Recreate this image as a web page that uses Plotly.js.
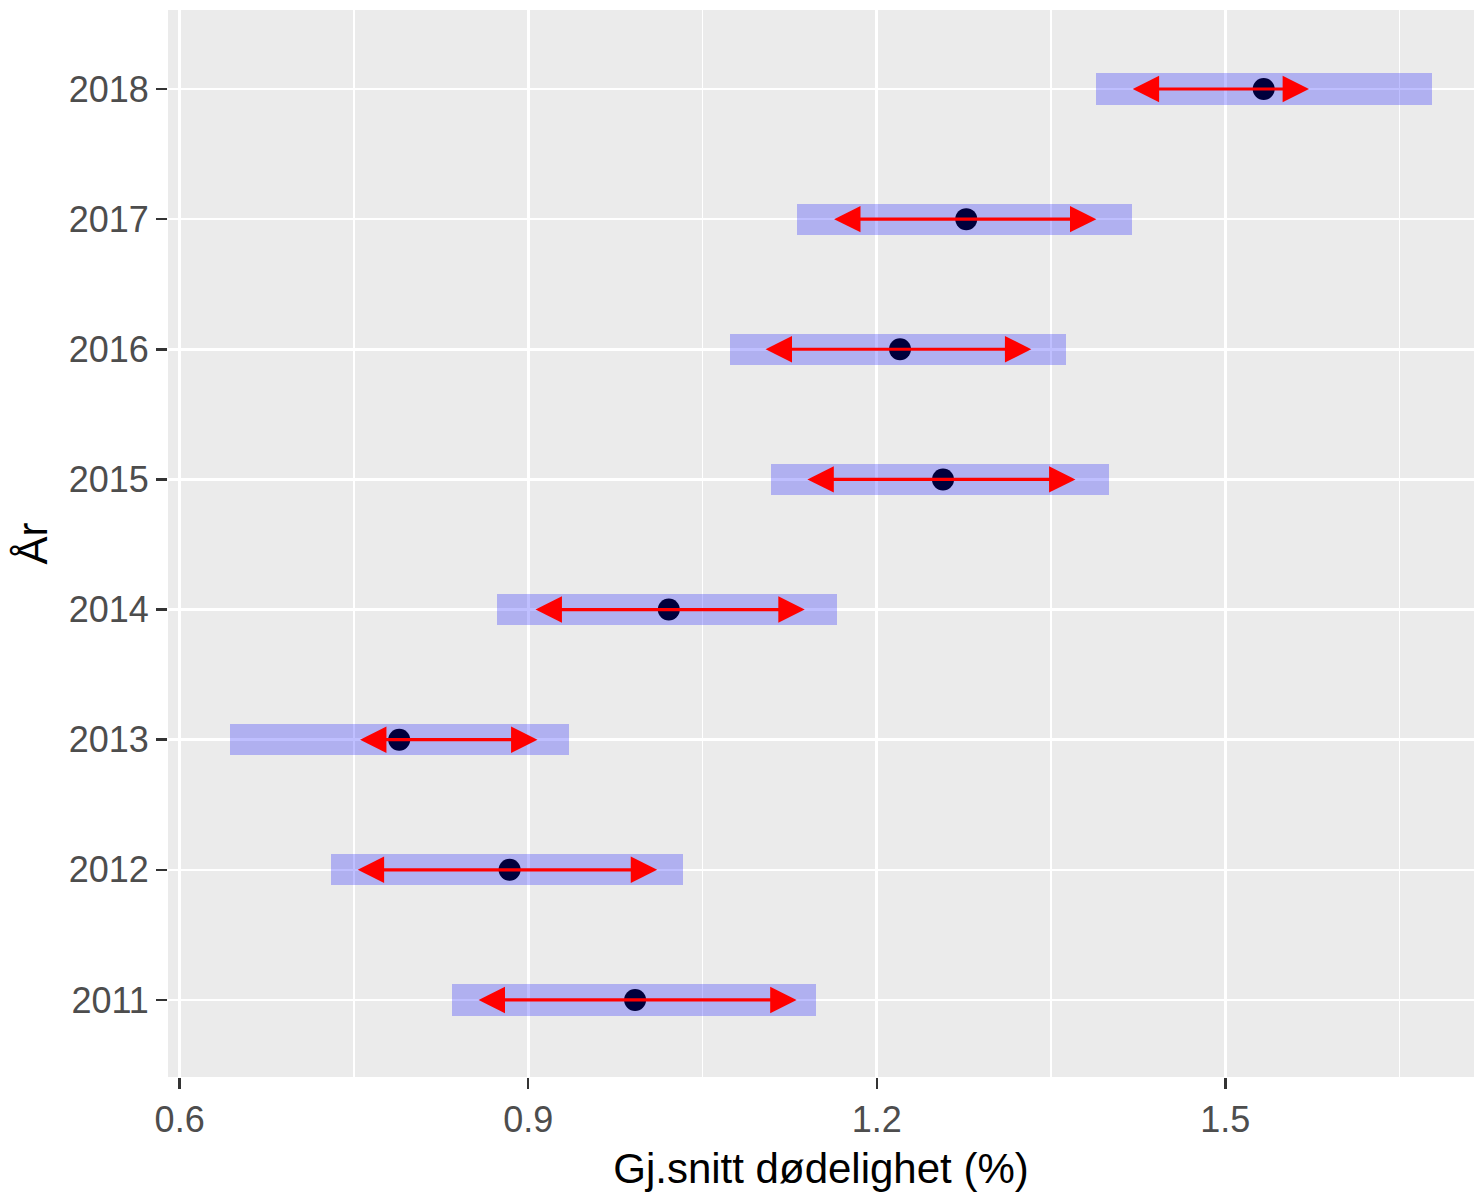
<!DOCTYPE html>
<html>
<head>
<meta charset="utf-8">
<script src="https://cdn.plot.ly/plotly-3.0.1.min.js"></script>
<style>
  html, body { margin: 0; padding: 0; background: #ffffff; }
  #chart { width: 1474px; height: 1195px; }
</style>
</head>
<body>
<div id="chart"></div>
<script>
// ---- Data ----
const years     = [2011, 2012, 2013, 2014, 2015, 2016, 2017, 2018];
const meanValue = [0.992, 0.884, 0.789, 1.021, 1.257, 1.220, 1.277, 1.533];
const boxLow    = [0.834, 0.730, 0.643, 0.873, 1.109, 1.074, 1.131, 1.389];
const boxHigh   = [1.148, 1.033, 0.935, 1.166, 1.400, 1.363, 1.420, 1.678];
const arrowLow  = [0.856, 0.752, 0.754, 0.905, 1.139, 1.103, 1.162, 1.419];
const arrowHigh = [1.131, 1.011, 0.908, 1.138, 1.371, 1.333, 1.389, 1.572];
const xTickVals = [0.6, 0.9, 1.2, 1.5];
const xTickText = ['0.6', '0.9', '1.2', '1.5'];
const xMinorVals = [0.75, 1.05, 1.35, 1.65];
const yTickText = years.map(String);

const FONT = 'Liberation Sans, Arial, Helvetica, sans-serif';

const boxTrace = {
  type: 'bar',
  orientation: 'h',
  y: years,
  base: boxLow,
  x: boxHigh.map((h, i) => h - boxLow[i]),
  width: 0.24,
  marker: { color: 'rgba(0,0,255,0.25)', line: { width: 0 } },
  hoverinfo: 'skip',
  showlegend: false
};

const pointTrace = {
  type: 'scatter',
  mode: 'markers',
  x: meanValue,
  y: years,
  marker: { color: '#00003c', size: 22 },
  hoverinfo: 'x+y',
  showlegend: false
};

const arrows = years.map((yr, i) => ({
  x: arrowHigh[i], y: yr,
  ax: arrowLow[i], ay: yr,
  xref: 'x', yref: 'y', axref: 'x', ayref: 'y',
  text: '',
  showarrow: true,
  arrowside: 'end+start',
  arrowhead: 2,
  startarrowhead: 2,
  arrowsize: 1.65,
  startarrowsize: 1.65,
  arrowwidth: 3.2,
  arrowcolor: '#ff0000'
}));

const layout = {
  width: 1474,
  height: 1195,
  margin: { l: 168, r: 0, t: 10, b: 118, pad: 0 },
  paper_bgcolor: '#ffffff',
  plot_bgcolor: '#EBEBEB',
  barmode: 'overlay',
  bargap: 0,
  showlegend: false,
  font: { family: FONT, color: '#4D4D4D' },
  xaxis: {
    range: [0.59, 1.714],
    tickmode: 'array',
    tickvals: xTickVals,
    ticktext: xTickText,
    showgrid: true,
    gridcolor: '#ffffff',
    gridwidth: 2.6,
    zeroline: false,
    showline: false,
    ticks: 'outside',
    ticklen: 11,
    tickwidth: 2.5,
    tickcolor: '#333333',
    tickfont: { family: FONT, size: 36, color: '#4D4D4D' },
    minor: {
      tickmode: 'array',
      tickvals: xMinorVals,
      showgrid: true,
      gridcolor: '#ffffff',
      gridwidth: 1.3,
      ticks: ''
    },
    title: { text: 'Gj.snitt dødelighet (%)', font: { family: FONT, size: 42, color: '#000000' }, standoff: 14 },
    automargin: false,
    fixedrange: true
  },
  yaxis: {
    range: [2010.408, 2018.607],
    tickmode: 'array',
    tickvals: years,
    ticktext: yTickText,
    showgrid: true,
    gridcolor: '#ffffff',
    gridwidth: 2.6,
    zeroline: false,
    showline: false,
    ticks: 'outside',
    ticklen: 11,
    tickwidth: 2.5,
    tickcolor: '#333333',
    tickfont: { family: FONT, size: 36, color: '#4D4D4D' },
    title: { text: 'År', font: { family: FONT, size: 42, color: '#000000' }, standoff: 8 },
    automargin: false,
    fixedrange: true
  },
  annotations: arrows
};

Plotly.newPlot('chart', [boxTrace, pointTrace], layout, { displayModeBar: false, staticPlot: true });
</script>
</body>
</html>
